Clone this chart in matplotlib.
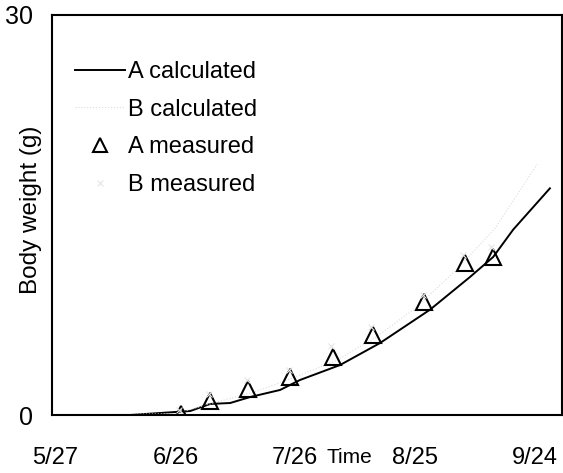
import matplotlib
matplotlib.use("Agg")
import matplotlib.pyplot as plt

# days counted from 5/27
tick_days = [0, 30, 60, 90, 120]
tick_labels = ["5/27", "6/26", "7/26", "8/25", "9/24"]

a_calc_day = [18.6, 33.7, 38.7, 43.7, 48.7, 56.2, 61.2, 71.2, 81.2, 93.7, 103.7, 109.5, 114.5, 123.7]
a_calc_wt = [0.0, 0.3, 0.83, 0.9, 1.35, 1.88, 2.63, 3.75, 5.4, 7.9, 10.35, 11.85, 13.9, 17.0]

b_calc_day = [2, 30, 40, 50, 60, 70, 80, 90, 100, 110, 120.5]
b_calc_wt = [0.0, 0.1, 0.95, 1.75, 2.85, 4.05, 5.8, 8.0, 10.8, 14.0, 18.8]

a_meas_day = [31.4, 38.7, 48.2, 58.7, 69.4, 79.5, 92.2, 102.5, 109.5]
a_meas_wt = [0.05, 1.05, 1.95, 2.85, 4.35, 6.0, 8.5, 11.4, 11.85]

b_meas_day = [31.0, 38.5, 48.0, 58.5, 69.0, 79.0, 92.0, 102.0, 109.0]
b_meas_wt = [0.4, 1.6, 2.6, 3.4, 5.2, 6.6, 9.0, 12.0, 12.6]

sans = ["Liberation Sans", "DejaVu Sans"]

fig = plt.figure(figsize=(5.63, 4.73), dpi=100)
ax = fig.add_axes([0.0924, 0.1226, 0.906, 0.8457])

ax.plot(a_calc_day, a_calc_wt, color="black", lw=1.4, label="A calculated")
ax.plot(b_calc_day, b_calc_wt, color="#dcdcdc", lw=0.8, ls=":", label="B calculated")
ax.plot(a_meas_day, a_meas_wt, ls="none", marker="^", ms=11.5, mfc="none",
        mec="black", mew=1.5, label="A measured")
ax.plot(b_meas_day, b_meas_wt, ls="none", marker="x", ms=5, mec="#e4e4e4",
        mew=0.8, label="B measured")

ax.set_xlim(-0.88, 126.75)
ax.set_ylim(0, 30)
ax.set_xticks(tick_days)
ax.set_xticklabels(tick_labels, family=sans, fontsize=17)
ax.set_yticks([0, 30])
ax.set_yticklabels(["0", "30"], family=sans, fontsize=18)
ax.tick_params(axis="x", length=0, pad=23)
ax.tick_params(axis="y", length=0, pad=14)

for sp in ax.spines.values():
    sp.set_linewidth(1.5)

ax.set_ylabel("Body weight (g)", family=sans, fontsize=17.5)
ax.yaxis.set_label_coords(-0.02, 0.5125)
ax.set_xlabel("Time", family=sans, fontsize=15, va="center")
ax.xaxis.set_label_coords(0.583, -0.105)

ax.legend(loc="upper left", bbox_to_anchor=(0.045, 0.8855), frameon=False,
          borderaxespad=0, borderpad=0, handlelength=2.12, handletextpad=0.12,
          labelspacing=0.67, markerscale=0.85, prop={"family": sans, "size": 17})

fig.savefig("out.png", dpi=100)
